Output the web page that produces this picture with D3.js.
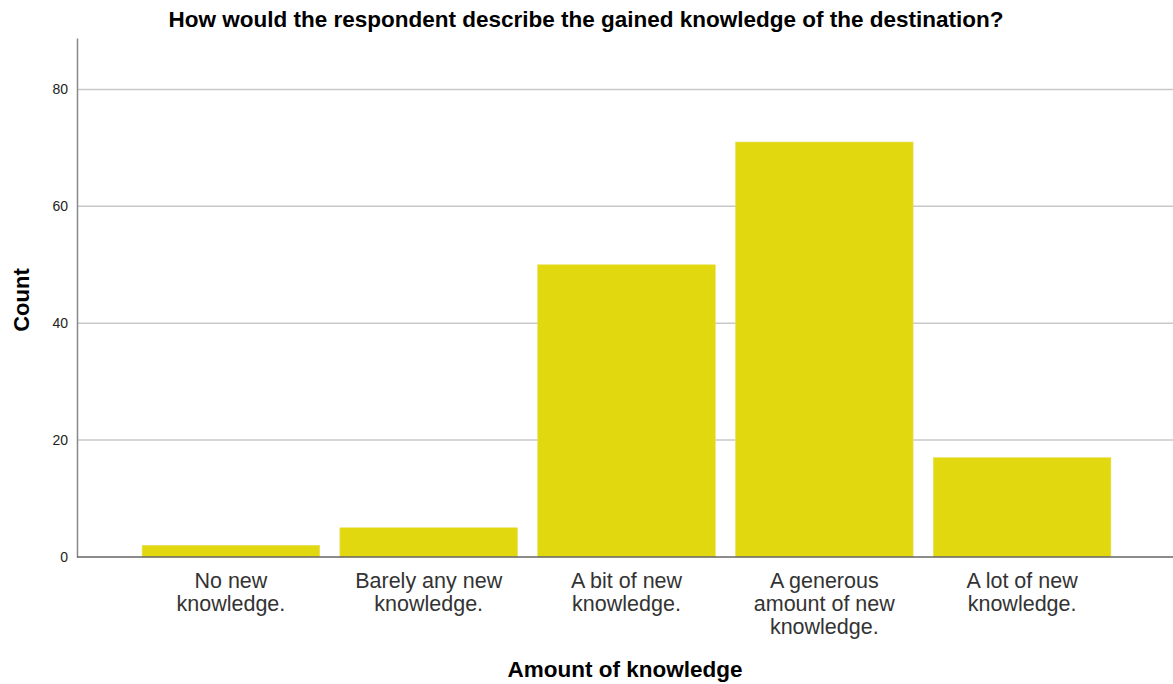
<!DOCTYPE html>
<html>
<head>
<meta charset="utf-8">
<script src="https://cdn.jsdelivr.net/npm/d3@7"></script>
<style>
  body { margin: 0; background: #fff; }
  text { font-family: "Liberation Sans", Arial, sans-serif; }
</style>
</head>
<body>
<div id="chart"></div>
<script>
const categories = [
    ["No new", "knowledge."],
    ["Barely any new", "knowledge."],
    ["A bit of new", "knowledge."],
    ["A generous", "amount of new", "knowledge."],
    ["A lot of new", "knowledge."]
];
const counts = [2, 5, 50, 71, 17];
const yTicks = [0, 20, 40, 60, 80];

const W = 1173, H = 684;
const axisX = 77, baseY = 557, topY = 38;

const svg = d3.select("#chart")
    .append("svg")
    .attr("width", W)
    .attr("height", H);

const keys = categories.map(d => d.join(" "));

const x = d3.scaleBand()
    .domain(keys)
    .range([132, 1121])
    .paddingInner(0.102)
    .paddingOuter(0.051);

const y = d3.scaleLinear()
    .domain([0, 88.8])
    .range([baseY, topY]);

// gridlines
svg.append("g")
    .selectAll("line")
    .data(yTicks.filter(d => d > 0))
    .enter()
    .append("line")
    .attr("x1", axisX)
    .attr("x2", W)
    .attr("y1", d => y(d))
    .attr("y2", d => y(d))
    .attr("stroke", "#c8c8c8")
    .attr("stroke-width", 1.5);

// bars
svg.selectAll(".bar")
    .data(counts)
    .enter()
    .append("rect")
    .attr("class", "bar")
    .attr("x", (d, i) => x(keys[i]))
    .attr("y", d => y(d))
    .attr("width", x.bandwidth())
    .attr("height", d => baseY - y(d))
    .attr("fill", "#e2d80f")
    .attr("stroke", "#e8e060")
    .attr("stroke-width", 0.6);

// y axis
const yAxis = svg.append("g")
    .attr("transform", `translate(${axisX},0)`)
    .call(d3.axisLeft(y).tickValues(yTicks).tickSize(0).tickPadding(9));
yAxis.select(".domain").attr("stroke", "#888").attr("stroke-width", 1.5);
yAxis.selectAll("text")
    .style("font-size", "14px")
    .attr("fill", "#222");

// x baseline
svg.append("line")
    .attr("x1", axisX)
    .attr("x2", W)
    .attr("y1", baseY)
    .attr("y2", baseY)
    .attr("stroke", "#666")
    .attr("stroke-width", 1.5);

// category labels
const labels = svg.append("g")
    .selectAll("text")
    .data(categories)
    .enter()
    .append("text")
    .attr("text-anchor", "middle")
    .attr("fill", "#333")
    .style("font-size", "21.5px");
labels.each(function(lines, i) {
    const t = d3.select(this);
    lines.forEach((ln, j) => {
        t.append("tspan")
            .attr("x", x(keys[i]) + x.bandwidth() / 2)
            .attr("y", 588 + j * 23)
            .text(ln);
    });
});

// title
svg.append("text")
    .attr("x", 586)
    .attr("y", 27)
    .attr("text-anchor", "middle")
    .style("font-size", "22.5px")
    .style("font-weight", "bold")
    .text("How would the respondent describe the gained knowledge of the destination?");

// axis titles
svg.append("text")
    .attr("transform", "translate(29,300) rotate(-90)")
    .attr("text-anchor", "middle")
    .style("font-size", "22px")
    .style("font-weight", "bold")
    .text("Count");

svg.append("text")
    .attr("x", 625)
    .attr("y", 677)
    .attr("text-anchor", "middle")
    .style("font-size", "22.5px")
    .style("font-weight", "bold")
    .text("Amount of knowledge");
</script>
</body>
</html>
